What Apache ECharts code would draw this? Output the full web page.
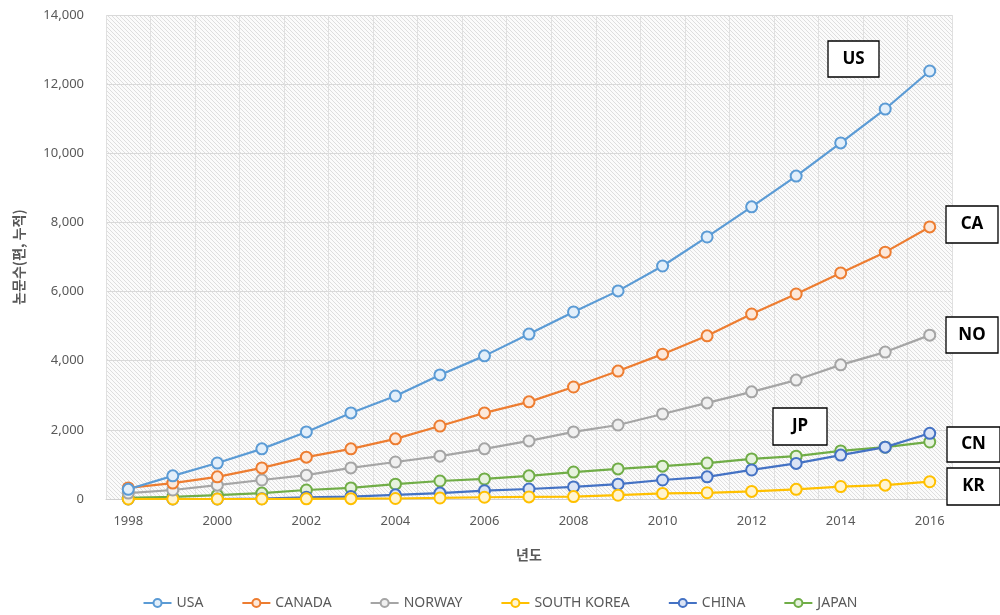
<!DOCTYPE html>
<html>
<head>
<meta charset="utf-8">
<script src="https://cdn.jsdelivr.net/npm/echarts@6/dist/echarts.min.js"></script>
<style>
html, body { margin: 0; padding: 0; background: #fff; }
#main { width: 1000px; height: 615px; }
</style>
</head>
<body>
<div id="main"></div>
<script>
// 데이터
var years = ['1998','1999','2000','2001','2002','2003','2004','2005','2006','2007',
             '2008','2009','2010','2011','2012','2013','2014','2015','2016'];
var usa    = [280, 670, 1040, 1450, 1940, 2490, 2980, 3590, 4140, 4770, 5410, 6020, 6740, 7580, 8450, 9340, 10300, 11280, 12380];
var canada = [320, 460, 640, 900, 1210, 1450, 1740, 2110, 2490, 2810, 3240, 3700, 4190, 4720, 5350, 5930, 6540, 7140, 7870];
var norway = [170, 260, 400, 550, 690, 900, 1070, 1240, 1450, 1680, 1940, 2140, 2460, 2780, 3100, 3440, 3880, 4250, 4740];
var korea  = [0, 0, 0, 0, 5, 10, 15, 30, 50, 60, 70, 110, 160, 180, 220, 280, 360, 400, 500];
var china  = [0, 0, 0, 10, 50, 70, 120, 170, 240, 290, 350, 430, 550, 640, 840, 1030, 1270, 1500, 1900];
var japan  = [30, 60, 110, 170, 260, 320, 430, 520, 580, 670, 780, 870, 950, 1040, 1160, 1240, 1390, 1500, 1650];

var names  = ['USA', 'CANADA', 'NORWAY', 'SOUTH KOREA', 'CHINA', 'JAPAN'];
var colors = ['#5B9BD5', '#ED7D31', '#A5A5A5', '#FFC000', '#4472C4', '#70AD47'];
var fills  = ['#e3effa', '#fce8da', '#f0f0f0', '#fff4d1', '#dbe4f5', '#e6f2de'];
var values = [usa, canada, norway, korea, china, japan];

// 빗금 배경
function hatch(){
    var c = document.createElement('canvas');
    c.width = 4; c.height = 4;
    var ctx = c.getContext('2d');
    ctx.fillStyle = '#fbfbfb';
    ctx.fillRect(0, 0, 4, 4);
    ctx.strokeStyle = '#dedede';
    ctx.lineWidth = 1;
    ctx.beginPath();
    ctx.moveTo(-1, -1); ctx.lineTo(5, 5);
    ctx.moveTo(-1, 3); ctx.lineTo(1, 5);
    ctx.moveTo(3, -1); ctx.lineTo(5, 1);
    ctx.stroke();
    return c;
}

// 라벨 상자
function box(text, x, y, w, h){
    return [
        { type: 'rect', shape: { x: x, y: y, width: w, height: h }, z: 100,
          style: { fill: '#fff', stroke: '#000', lineWidth: 1.3 } },
        { type: 'text', x: x + w / 2, y: y + h / 2, z: 101,
          style: { text: text, fill: '#000', font: 'bold 17px "Noto Sans", sans-serif',
                   align: 'center', verticalAlign: 'middle' } }
    ];
}

var myChart = echarts.init(document.getElementById('main'));

var series = [];
for (var i = 0; i < names.length; i++) {
    series.push({
        name: names[i],
        type: 'line',
        data: values[i],
        symbol: 'circle',
        symbolSize: 11,
        lineStyle: { color: colors[i], width: 2.2 },
        itemStyle: { color: fills[i], borderColor: colors[i], borderWidth: 2 },
        z: 10 - i
    });
}

var graphics = [].concat(
    box('US', 828, 41, 51, 36),
    box('CA', 946, 206, 52, 37),
    box('NO', 946, 317, 52, 36),
    box('JP', 773, 408, 54, 37),
    box('CN', 947, 427, 53, 35),
    box('KR', 947, 468, 53, 37)
);

option = {
    animation: false,
    textStyle: { fontFamily: '"Noto Sans CJK KR", "Noto Sans", sans-serif' },
    grid: {
        left: 106, right: 48, top: 15, bottom: 116,
        show: true,
        borderWidth: 0,
        backgroundColor: { image: hatch(), repeat: 'repeat' }
    },
    legend: {
        bottom: 0,
        left: 'center',
        itemWidth: 28,
        itemHeight: 10,
        itemGap: 38,
        textStyle: { color: '#595959', fontSize: 14, fontFamily: '"Noto Sans", sans-serif' },
        data: names
    },
    xAxis: {
        type: 'category',
        data: years,
        boundaryGap: true,
        name: '년도',
        nameLocation: 'middle',
        nameGap: 49,
        nameTextStyle: { color: '#595959', fontSize: 14, fontWeight: 'bold' },
        axisLine: { lineStyle: { color: '#d0d0d0', width: 1 } },
        axisTick: { show: false },
        axisLabel: { interval: 1, color: '#595959', fontSize: 13, margin: 16,
                     fontFamily: '"Noto Sans", sans-serif' },
        splitLine: { show: true, interval: 0, lineStyle: { color: '#e0e0e0', width: 1 } }
    },
    yAxis: {
        type: 'value',
        min: 0, max: 14000, interval: 2000,
        name: '논문수(편, 누적)',
        nameLocation: 'middle',
        nameRotate: 90,
        nameGap: 80,
        nameTextStyle: { color: '#595959', fontSize: 14, fontWeight: 'bold' },
        axisLine: { show: false },
        axisTick: { show: false },
        axisLabel: {
            color: '#595959', fontSize: 13, margin: 22,
            fontFamily: '"Noto Sans", sans-serif',
            formatter: function (v) { return v.toLocaleString('en-US'); }
        },
        splitLine: { lineStyle: { color: '#d9d9d9', width: 1 } }
    },
    graphic: graphics,
    series: series
};
myChart.setOption(option);
</script>
</body>
</html>
